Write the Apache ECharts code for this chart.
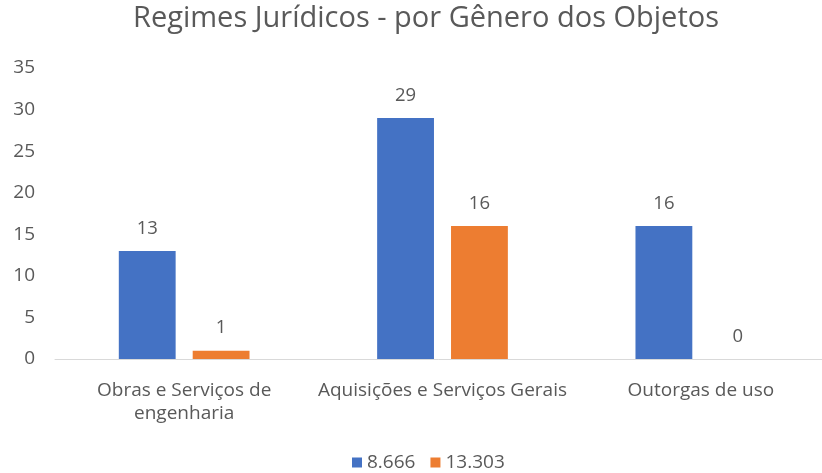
<!DOCTYPE html>
<html>
<head>
<meta charset="utf-8">
<script src="https://cdn.jsdelivr.net/npm/echarts@6/dist/echarts.min.js"></script>
<style>
html, body { margin: 0; padding: 0; background: #fff; }
#chart { width: 822px; height: 473px; }
</style>
</head>
<body>
<div id="chart"></div>
<script>
// dados do gráfico
var categorias = ['Obras e Serviços de\nengenharia', 'Aquisições e Serviços Gerais', 'Outorgas de uso'];
var serieNomes = ['8.666', '13.303'];
var lei8666 = [13, 29, 16];
var lei13303 = [1, 16, 0];
var yTicks = { min: 0, max: 35, interval: 5 };

var cinza = '#595959';
var fonte = '"Open Sans", "Noto Sans", sans-serif';

var chart = echarts.init(document.getElementById('chart'));

function barra(nome, dados, cor) {
	return {
		name: nome,
		type: 'bar',
		data: dados,
		barWidth: '22%',
		barGap: '30%',
		itemStyle: { color: cor },
		label: {
			show: true,
			position: 'top',
			distance: 13,
			color: cinza,
			fontSize: 18.5,
			fontFamily: fonte
		}
	};
}

chart.setOption({
	animation: false,
	title: {
		text: 'Regimes Jurídicos - por Gênero dos Objetos',
		left: 128,
		top: -1,
		textStyle: { color: cinza, fontSize: 29, fontWeight: 'normal', fontFamily: fonte }
	},
	legend: {
		data: serieNomes,
		top: 448,
		left: 347,
		itemWidth: 10,
		itemHeight: 10,
		itemGap: 15,
		icon: 'rect',
		textStyle: { color: cinza, fontSize: 19, fontFamily: fonte }
	},
	grid: { left: 55, width: 775, top: 68, bottom: 114, containLabel: false, outerBoundsMode: 'none' },
	xAxis: {
		type: 'category',
		data: categorias,
		axisLine: { lineStyle: { color: '#D9D9D9', width: 1 } },
		axisTick: { show: false },
		axisLabel: { color: cinza, fontSize: 19, fontFamily: fonte, margin: 20, lineHeight: 23, interval: 0 }
	},
	yAxis: {
		type: 'value',
		min: yTicks.min,
		max: yTicks.max,
		interval: yTicks.interval,
		splitLine: { show: false },
		axisLine: { show: false },
		axisLabel: { color: cinza, fontSize: 19, fontFamily: fonte, margin: 20 }
	},
	series: [
		barra(serieNomes[0], lei8666, '#4472C4'),
		barra(serieNomes[1], lei13303, '#ED7D31')
	]
});
</script>
</body>
</html>
